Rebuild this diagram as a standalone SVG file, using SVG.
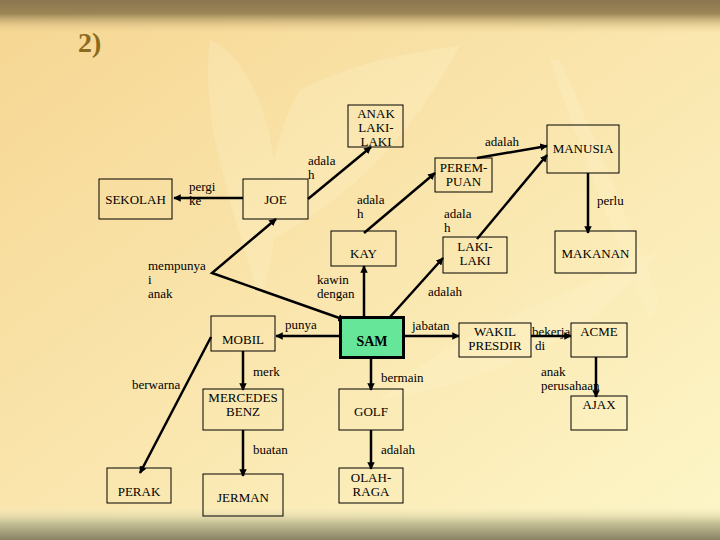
<svg xmlns="http://www.w3.org/2000/svg" width="720" height="540" viewBox="0 0 720 540">
<defs>
<linearGradient id="bg" x1="0" y1="0" x2="1" y2="1">
<stop offset="0" stop-color="#F6D692"/>
<stop offset="0.5" stop-color="#FAE6AE"/>
<stop offset="1" stop-color="#FDF6C8"/>
</linearGradient>
<linearGradient id="top" x1="0" y1="0" x2="0" y2="1">
<stop offset="0" stop-color="#8A7650"/>
<stop offset="0.4" stop-color="#9C8656"/>
<stop offset="1" stop-color="#F5D896" stop-opacity="0"/>
</linearGradient>
<linearGradient id="bot" x1="0" y1="0" x2="0" y2="1">
<stop offset="0" stop-color="#FBF3C4" stop-opacity="0"/>
<stop offset="0.5" stop-color="#C8C298"/>
<stop offset="1" stop-color="#878263"/>
</linearGradient>
<marker id="ah" viewBox="0 0 10 10" refX="9" refY="5" markerWidth="3" markerHeight="3" orient="auto-start-reverse" markerUnits="strokeWidth">
<path d="M0,0 L10,5 L0,10 z" fill="#000"/>
</marker>
<style>
.box{fill:none;stroke:#000;stroke-width:1}
text{font-family:'DejaVu Serif','Liberation Serif',serif}
.t{font-family:'Liberation Serif','DejaVu Serif',serif;font-size:13px;fill:#000}
.c{text-anchor:middle}
.ln{stroke:#000;stroke-width:2.5;fill:none;marker-end:url(#ah)}
</style>
</defs>
<rect x="0" y="0" width="720" height="540" fill="url(#bg)"/>
<g opacity="0.25" fill="#FFF6D0">
<path d="M210,40 C260,60 300,180 260,300 C230,200 200,120 210,40 z"/>
<path d="M300,90 C380,50 450,50 460,45 C420,120 360,200 250,250 C270,180 280,120 300,90 z"/>
<path d="M560,60 C600,150 640,250 660,300 L650,320 C620,250 580,150 550,60 z"/>
<path d="M380,400 C450,330 560,300 660,250 C600,330 500,380 380,400 z"/>
</g>
<rect x="0" y="0" width="720" height="34" fill="url(#top)"/>
<rect x="0" y="505" width="720" height="35" fill="url(#bot)"/>
<text x="78" y="52" style="font-family:'Liberation Serif','DejaVu Serif',serif;font-size:28px;font-weight:bold;fill:#8B6B1E">2)</text>

<g id="connectors">
<line class="ln" x1="243" y1="198" x2="174" y2="198"/>
<line class="ln" x1="308" y1="199" x2="371" y2="147"/>
<line class="ln" x1="364" y1="233" x2="435" y2="173"/>
<line class="ln" x1="477" y1="158" x2="547" y2="146"/>
<line class="ln" x1="477" y1="239" x2="547" y2="155"/>
<line class="ln" x1="588" y1="173" x2="588" y2="233"/>
<line class="ln" x1="364" y1="316" x2="364" y2="266"/>
<line class="ln" x1="390" y1="317" x2="443" y2="258"/>
<polyline class="ln" points="345,320 212,273 276,219" style="marker-start:url(#ah)"/>
<line class="ln" x1="339" y1="336" x2="276" y2="336"/>
<line class="ln" x1="243" y1="351" x2="243" y2="390"/>
<line class="ln" x1="211" y1="337" x2="140" y2="473"/>
<line class="ln" x1="243" y1="430" x2="243" y2="476"/>
<line class="ln" x1="371" y1="358" x2="371" y2="390"/>
<line class="ln" x1="371" y1="430" x2="371" y2="469"/>
<line class="ln" x1="404" y1="336" x2="459" y2="336"/>
<line class="ln" x1="531" y1="336" x2="571" y2="336"/>
<line class="ln" x1="596" y1="357" x2="596" y2="397"/>
</g>

<g id="labels">
<text class="t" x="189" y="191">pergi</text><text class="t" x="189" y="205">ke</text>
<text class="t" x="308" y="165">adala</text><text class="t" x="308" y="179">h</text>
<text class="t" x="357" y="204">adala</text><text class="t" x="357" y="218">h</text>
<text class="t" x="485" y="146">adalah</text>
<text class="t" x="444" y="218">adala</text><text class="t" x="444" y="232">h</text>
<text class="t" x="597" y="205">perlu</text>
<text class="t" x="317" y="284">kawin</text><text class="t" x="317" y="298">dengan</text>
<text class="t" x="428" y="296">adalah</text>
<text class="t" x="148" y="270">mempunya</text><text class="t" x="148" y="284">i</text><text class="t" x="148" y="298">anak</text>
<text class="t" x="285" y="329">punya</text>
<text class="t" x="253" y="376">merk</text>
<text class="t" x="132" y="389">berwarna</text>
<text class="t" x="253" y="454">buatan</text>
<text class="t" x="381" y="382">bermain</text>
<text class="t" x="381" y="454">adalah</text>
<text class="t" x="412" y="330">jabatan</text>
<text class="t" x="532" y="336">bekerja</text><text class="t" x="535" y="350">di</text>
<text class="t" x="541" y="376">anak</text><text class="t" x="541" y="390">perusahaan</text>
</g>

<g id="SEKOLAH"><rect class="box" x="99" y="179" width="73" height="40"/><text class="t c" x="135.5" y="204">SEKOLAH</text></g>
<g id="JOE"><rect class="box" x="243" y="179" width="65" height="40"/><text class="t c" x="275.5" y="204">JOE</text></g>
<g id="ANAK"><rect class="box" x="348" y="105" width="55" height="42"/><text class="t c" x="376" y="118">ANAK</text><text class="t c" x="376" y="132">LAKI-</text><text class="t c" x="376" y="146">LAKI</text></g>
<g id="PEREMPUAN"><rect class="box" x="435" y="158" width="57" height="34"/><text class="t c" x="463.5" y="172">PEREM-</text><text class="t c" x="463.5" y="186">PUAN</text></g>
<g id="MANUSIA"><rect class="box" x="547" y="125" width="72" height="48"/><text class="t c" x="583" y="153">MANUSIA</text></g>
<g id="KAY"><rect class="box" x="331" y="231" width="65" height="35"/><text class="t c" x="363.5" y="258">KAY</text></g>
<g id="LAKILAKI"><rect class="box" x="443" y="237" width="64" height="36"/><text class="t c" x="475" y="251">LAKI-</text><text class="t c" x="475" y="265">LAKI</text></g>
<g id="MAKANAN"><rect class="box" x="555" y="231" width="81" height="42"/><text class="t c" x="595.5" y="258">MAKANAN</text></g>
<g id="MOBIL"><rect class="box" x="211" y="316" width="64" height="35"/><text class="t c" x="243" y="344">MOBIL</text></g>
<g id="SAM"><rect x="340.5" y="317.5" width="63" height="40" fill="#66E699" stroke="#000" stroke-width="3"/><text class="t c" x="372" y="346" style="font-weight:bold;font-size:14px">SAM</text></g>
<g id="MERCEDES"><rect class="box" x="203" y="389" width="80" height="41"/><text class="t c" x="243" y="402">MERCEDES</text><text class="t c" x="243" y="416">BENZ</text></g>
<g id="PERAK"><rect class="box" x="107" y="468" width="64" height="35"/><text class="t c" x="139" y="496">PERAK</text></g>
<g id="JERMAN"><rect class="box" x="203" y="474" width="80" height="42"/><text class="t c" x="243" y="502">JERMAN</text></g>
<g id="GOLF"><rect class="box" x="339" y="389" width="64" height="41"/><text class="t c" x="371" y="416">GOLF</text></g>
<g id="OLAHRAGA"><rect class="box" x="339" y="468" width="64" height="35"/><text class="t c" x="371" y="482">OLAH-</text><text class="t c" x="371" y="496">RAGA</text></g>
<g id="WAKIL"><rect class="box" x="459" y="323" width="72" height="34"/><text class="t c" x="495" y="336">WAKIL</text><text class="t c" x="495" y="350">PRESDIR</text></g>
<g id="ACME"><rect class="box" x="571" y="323" width="56" height="34"/><text class="t c" x="599" y="336">ACME</text></g>
<g id="AJAX"><rect class="box" x="571" y="396" width="56" height="34"/><text class="t c" x="599" y="409">AJAX</text></g>
</svg>
